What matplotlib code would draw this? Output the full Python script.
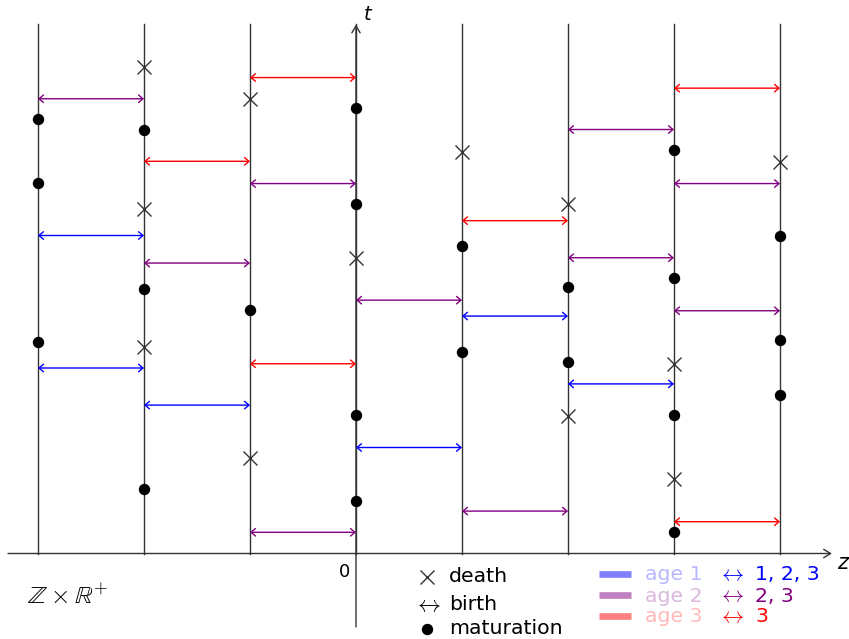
import matplotlib
matplotlib.use("Agg")
import matplotlib.pyplot as plt

plt.rcParams['mathtext.fontset'] = 'cm'
plt.rcParams['font.family'] = ['DejaVu Sans']

# lattice sites
sites = [-3, -2, -1, 0, 1, 2, 3, 4]
t_max = 5.0

# deaths (site, time)
death_z = [-2, -2, -2, -1, -1, 0, 1, 2, 2, 3, 3, 4]
death_t = [4.59, 3.25, 1.95, 4.29, 0.90, 2.79, 3.79, 3.30, 1.30, 1.79, 0.70, 3.69]

# maturations (site, time)
mat_z = [-3, -3, -3, -2, -2, -2, -1, 0, 0, 0, 0, 1, 1, 2, 2, 3, 3, 3, 3, 4, 4, 4]
mat_t = [4.10, 3.50, 2.00, 4.00, 2.50, 0.61, 2.30, 4.20, 3.30, 1.31, 0.50,
         2.90, 1.90, 2.51, 1.81, 3.81, 2.60, 1.31, 0.20, 3.00, 2.01, 1.50]

# births between site z and z+1 (left site, time)
birth1_z = [-3, -3, -2, 0, 1, 2]
birth1_t = [3.00, 1.75, 1.40, 1.00, 2.24, 1.60]
birth2_z = [-3, -2, -1, -1, 0, 1, 2, 2, 3, 3]
birth2_t = [4.29, 2.74, 3.49, 0.20, 2.39, 0.40, 4.00, 2.79, 3.49, 2.29]
birth3_z = [-2, -1, -1, 1, 3, 3]
birth3_t = [3.70, 4.49, 1.79, 3.14, 4.39, 0.30]

birth_colors = ['#0000ff', '#800080', '#ff0000']
swatch_colors = ['#8080ff', '#bf80bf', '#ff8080']
age_text_colors = ['#b8b8ff', '#dcb8dc', '#ffb8b8']
age_labels = ['age 1', 'age 2', 'age 3']
class_labels = ['1, 2, 3', '2, 3', '3']

fig = plt.figure(figsize=(8.49, 6.39), dpi=100)
ax = fig.add_axes([0, 0, 1, 1])
ax.set_xlim(-356 / 106, 493 / 106)
ax.set_ylim((553.5 - 639) / 106, 553.5 / 106)
ax.axis('off')


def px(x):
    return (x - 356) / 106


def py(y):
    return (553.5 - y) / 106


# vertical world lines
for z in sites:
    ax.plot([z, z], [0, t_max], color='#333333', lw=1.0, zorder=1)

# axes with arrows
ax.annotate('', xy=(4.49, 0), xytext=(-3.283, 0),
            arrowprops=dict(arrowstyle='->,head_length=0.5,head_width=0.3',
                            color='#333333', lw=1.0, shrinkA=0, shrinkB=0,
                            mutation_scale=10), zorder=2)
ax.annotate('', xy=(0, 4.99), xytext=(0, -0.693),
            arrowprops=dict(arrowstyle='->,head_length=0.5,head_width=0.3',
                            color='#333333', lw=1.0, shrinkA=0, shrinkB=0,
                            mutation_scale=10), zorder=2)
ax.text(px(368), py(14), 't', fontsize=14, fontstyle='italic', ha='center', va='center')
ax.text(px(843), py(563), 'z', fontsize=15, fontstyle='italic', ha='center', va='center')
ax.text(px(350), py(572), '0', fontsize=13, ha='right', va='center')
ax.text(px(27), py(597), r'$\mathbb{Z}\times\mathbb{R}^{+}$', fontsize=18,
        ha='left', va='center')

# births
for bz, bt, col in [(birth1_z, birth1_t, birth_colors[0]),
                    (birth2_z, birth2_t, birth_colors[1]),
                    (birth3_z, birth3_t, birth_colors[2])]:
    for z, t in zip(bz, bt):
        ax.annotate('', xy=(z + 1, t), xytext=(z, t),
                    arrowprops=dict(arrowstyle='<->,head_length=0.35,head_width=0.3',
                                    color=col, lw=1.0, shrinkA=0, shrinkB=0,
                                    mutation_scale=9), zorder=3)

# deaths and maturations
ax.plot(death_z, death_t, ls='none', marker='x', ms=9.5, mew=1.0,
        color='#333333', zorder=4)
ax.plot(mat_z, mat_t, ls='none', marker='o', ms=7.2, color='black', zorder=4)

# left legend
lx_sym = px(427)
lx_txt = px(449)
ly = [py(577), py(604), py(629)]
ax.plot([lx_sym], [ly[0]], ls='none', marker='x', ms=9.5, mew=1.0, color='#333333')
ax.text(lx_sym, ly[1], r'$\leftrightarrow$', fontsize=16.5, ha='center', va='center')
ax.plot([lx_sym], [ly[2]], ls='none', marker='o', ms=7.2, color='black')
for y, lab in zip(ly, ['death', 'birth', 'maturation']):
    ax.text(lx_txt, y, lab, fontsize=14.7, ha='left', va='center')

# right legend
sx0, sx1 = px(599), px(631)
tx_age = px(645)
tx_arr = px(731)
tx_cls = px(755)
ry = [py(575), py(596), py(617)]
for i in range(3):
    ax.plot([sx0, sx1], [ry[i] + 0.01, ry[i] + 0.01], color=swatch_colors[i], lw=4.8,
            solid_capstyle='butt')
    ax.text(tx_age, ry[i], age_labels[i], fontsize=14.7, color=age_text_colors[i],
            ha='left', va='center')
    ax.text(tx_arr, ry[i], r'$\leftrightarrow$', fontsize=16, color=birth_colors[i],
            ha='center', va='center')
    ax.text(tx_cls, ry[i], class_labels[i], fontsize=14.7, color=birth_colors[i],
            ha='left', va='center')

fig.savefig('out.png', dpi=100)
